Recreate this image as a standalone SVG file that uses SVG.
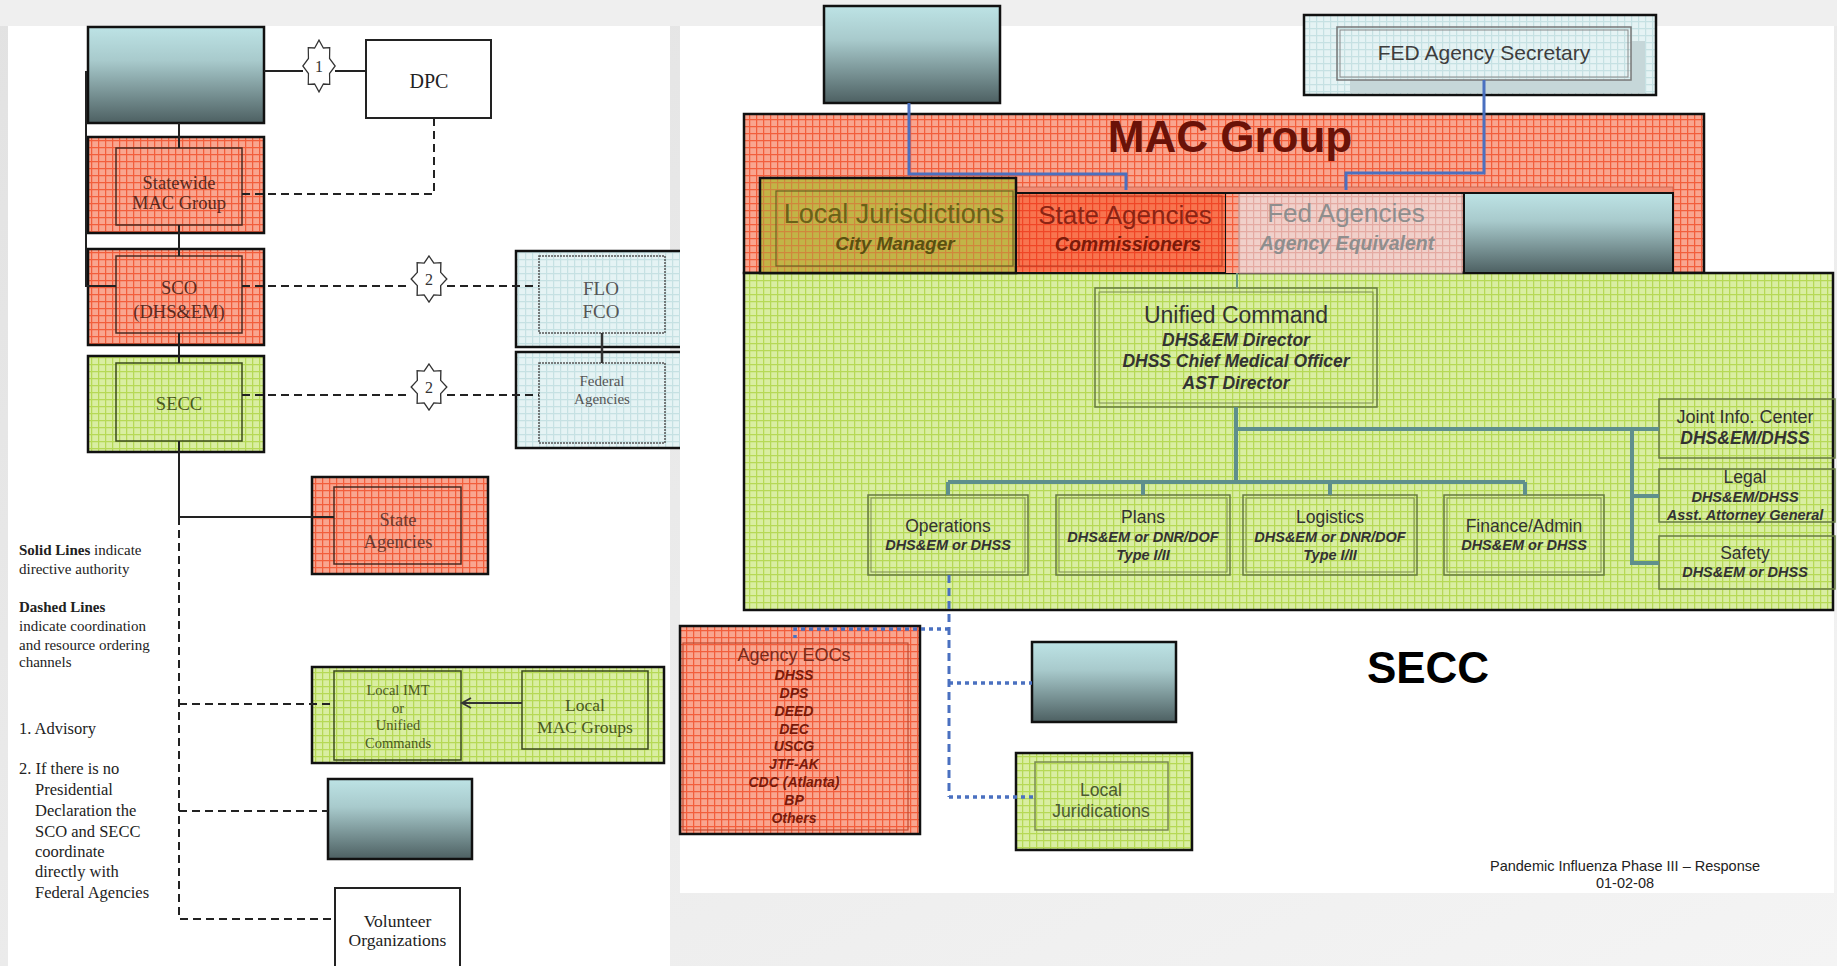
<svg xmlns="http://www.w3.org/2000/svg" width="1837" height="966" viewBox="0 0 1837 966">
<style>
.serif{font-family:"Liberation Serif","Times New Roman",serif}
.sans{font-family:"Liberation Sans",Arial,sans-serif}
.c{text-anchor:middle}
.bi{font-weight:bold;font-style:italic}
.ob{stroke:#111;stroke-width:2.5}
.solid{fill:none;stroke:#222;stroke-width:2}
.dash{fill:none;stroke:#222;stroke-width:2;stroke-dasharray:8 5}
.blue{fill:none;stroke:#4a70c0;stroke-width:3}
.bdot{fill:none;stroke:#4a70c0;stroke-width:3.5;stroke-dasharray:4 4}
.org{fill:none;stroke:#5f8f8c;stroke-width:4}
.gbox{fill:none;stroke:#667a40;stroke-width:1.5}
.gin{fill:none;stroke:#7a8a50;stroke-width:1}
</style>
<defs>
<linearGradient id="bg" x1="0" y1="0" x2="1" y2="1"><stop offset="0" stop-color="#e2e2e2"/><stop offset="1" stop-color="#f4f4f4"/></linearGradient>
<linearGradient id="gr" x1="0" y1="0" x2="0" y2="1"><stop offset="0" stop-color="#bde3e5"/><stop offset="0.35" stop-color="#a8cacc"/><stop offset="1" stop-color="#4d6062"/></linearGradient>
<pattern id="pr" width="7" height="7" patternUnits="userSpaceOnUse"><rect width="7" height="7" fill="#f9a58f"/><path d="M0 0.6H7M0.6 0V7" stroke="#f25e3c" stroke-width="1.3"/></pattern>
<pattern id="pr2" width="7" height="7" patternUnits="userSpaceOnUse"><rect width="7" height="7" fill="#f8744f"/><path d="M0 0.6H7M0.6 0V7" stroke="#f04626" stroke-width="1.3"/></pattern>
<pattern id="pg" width="7" height="7" patternUnits="userSpaceOnUse"><rect width="7" height="7" fill="#d9eea2"/><path d="M0 0.6H7M0.6 0V7" stroke="#b6d956" stroke-width="1.3"/></pattern>
<pattern id="pb" width="7" height="7" patternUnits="userSpaceOnUse"><rect width="7" height="7" fill="#e5f3f4"/><path d="M0 0.6H7M0.6 0V7" stroke="#c6e1e3" stroke-width="1.2"/></pattern>
<pattern id="po" width="7" height="7" patternUnits="userSpaceOnUse"><rect width="7" height="7" fill="#c2b447"/><path d="M0 0.6H7M0.6 0V7" stroke="#d0873c" stroke-width="1.2"/></pattern>
<pattern id="pp" width="7" height="7" patternUnits="userSpaceOnUse"><rect width="7" height="7" fill="#f1d0ca"/><path d="M0 0.6H7M0.6 0V7" stroke="#e4aaa2" stroke-width="1.2"/></pattern>
<path id="star" d="M0,-24 L4.6,-16.6 L11.3,-17 L11.1,-6.9 L17,0 L11.1,6.9 L11.3,17 L4.6,16.6 L0,24 L-4.6,16.6 L-11.3,17 L-11.1,6.9 L-17,0 L-11.1,-6.9 L-11.3,-17 L-4.6,-16.6 Z" fill="#fff" stroke="#333" stroke-width="1.3"/>
<marker id="open" markerWidth="12" markerHeight="12" refX="10" refY="6" orient="auto" markerUnits="userSpaceOnUse"><path d="M1,1 L10,6 L1,11" fill="none" stroke="#333" stroke-width="1.8"/></marker>
</defs>

<!-- background -->
<rect width="1837" height="966" fill="url(#bg)"/>
<rect x="0" y="0" width="1837" height="26" fill="#efefef"/>
<rect x="8" y="26" width="662" height="940" fill="#fff"/>

<!-- LEFT PANEL NODES -->
<g id="gov-left">
<rect x="88" y="27" width="176" height="96" fill="url(#gr)" class="ob"/>
</g>
<g id="dpc">
<rect x="366" y="40" width="125" height="78" fill="#fff" stroke="#222" stroke-width="2"/>
<text x="429" y="88" class="serif c" font-size="20" fill="#222">DPC</text>
</g>
<g id="statewide-mac">
<rect x="88" y="137" width="176" height="96" fill="url(#pr)" class="ob"/>
<rect x="116" y="148" width="126" height="77" fill="none" stroke="#4a2a20" stroke-width="1.5"/>
<text x="179" y="188.5" class="serif c" font-size="18.5" fill="#5a2a20">Statewide</text>
<text x="179" y="208.5" class="serif c" font-size="18.5" fill="#5a2a20">MAC Group</text>
</g>
<g id="sco">
<rect x="88" y="249" width="176" height="96" fill="url(#pr)" class="ob"/>
<rect x="116" y="256" width="126" height="77" fill="none" stroke="#4a2a20" stroke-width="1.5"/>
<text x="179" y="294" class="serif c" font-size="18.5" fill="#5a2a20">SCO</text>
<text x="179" y="318" class="serif c" font-size="18.5" fill="#5a2a20">(DHS&amp;EM)</text>
</g>
<g id="secc-left">
<rect x="88" y="356" width="176" height="96" fill="url(#pg)" class="ob"/>
<rect x="116" y="363" width="126" height="78" fill="none" stroke="#3a4a1a" stroke-width="1.5"/>
<text x="179" y="410" class="serif c" font-size="18.5" fill="#4a5a20">SECC</text>
</g>
<g id="flo-fco">
<rect x="516" y="251" width="172" height="96" fill="url(#pb)" class="ob"/>
<rect x="539" y="256" width="126" height="77" fill="none" stroke="#555" stroke-width="1.5" stroke-dasharray="2 1"/>
<text x="601" y="294.5" class="serif c" font-size="19" fill="#555">FLO</text>
<text x="601" y="317.5" class="serif c" font-size="19" fill="#555">FCO</text>
</g>
<g id="federal-agencies">
<rect x="516" y="352" width="172" height="96" fill="url(#pb)" class="ob"/>
<rect x="539" y="363" width="126" height="80" fill="none" stroke="#555" stroke-width="1.5" stroke-dasharray="2 1"/>
<text x="602" y="386" class="serif c" font-size="15" fill="#555">Federal</text>
<text x="602" y="404" class="serif c" font-size="15" fill="#555">Agencies</text>
</g>
<g id="state-agencies-left">
<rect x="312" y="477" width="176" height="97" fill="url(#pr)" class="ob"/>
<rect x="334" y="487" width="127" height="77" fill="none" stroke="#4a2a20" stroke-width="1.5"/>
<text x="398" y="526" class="serif c" font-size="18.5" fill="#6a3a30">State</text>
<text x="398" y="548" class="serif c" font-size="18.5" fill="#6a3a30">Agencies</text>
</g>
<g id="local-imt">
<rect x="312" y="667" width="352" height="96" fill="url(#pg)" class="ob"/>
<rect x="334" y="671" width="127" height="89" fill="none" stroke="#3a4a1a" stroke-width="1.5"/>
<text x="398" y="695" class="serif c" font-size="14.5" fill="#4a5a20">Local IMT</text>
<text x="398" y="713" class="serif c" font-size="14.5" fill="#4a5a20">or</text>
<text x="398" y="730" class="serif c" font-size="14.5" fill="#4a5a20">Unified</text>
<text x="398" y="748" class="serif c" font-size="14.5" fill="#4a5a20">Commands</text>
</g>
<g id="local-mac-groups">
<rect x="522" y="671" width="126" height="78" fill="none" stroke="#3a4a1a" stroke-width="1.5"/>
<text x="585" y="711" class="serif c" font-size="17.5" fill="#4a5a20">Local</text>
<text x="585" y="733" class="serif c" font-size="17.5" fill="#4a5a20">MAC Groups</text>
</g>
<g id="gov-left-2">
<rect x="328" y="779" width="144" height="80" fill="url(#gr)" class="ob"/>
</g>
<g id="volunteer">
<rect x="335" y="888" width="125" height="80" fill="#fff" stroke="#222" stroke-width="2"/>
<text x="397.5" y="927" class="serif c" font-size="17.5" fill="#222">Volunteer</text>
<text x="397.5" y="946" class="serif c" font-size="17.5" fill="#222">Organizations</text>
</g>

<!-- LEFT CONNECTORS -->
<g id="connectors-left">
<path class="solid" d="M264,71 H303 M335,71 H366"/>
<path class="solid" d="M86,71 V286 H116"/>
<path class="solid" d="M179,123 V148 M179,225 V256 M179,333 V363 M179,441 V517 H334"/>
<path class="dash" d="M179,517 V919 H335 M179,704 H334 M179,811 H328"/>
<path class="dash" d="M434,118 V194 H242"/>
<path class="dash" d="M242,286 H411 M447,286 H539"/>
<path class="dash" d="M242,395 H411 M447,395 H539"/>
<path fill="none" stroke="#333" stroke-width="2.5" d="M602,333 V363"/>
<path fill="none" stroke="#333" stroke-width="1.8" d="M522,703 H462" marker-end="url(#open)"/>
<use href="#star" transform="translate(319,66) scale(0.95,1.08)"/>
<text x="319" y="72" class="serif c" font-size="16" fill="#333">1</text>
<use href="#star" transform="translate(429,279) scale(1.05,0.96)"/>
<text x="429" y="285" class="serif c" font-size="16" fill="#333">2</text>
<use href="#star" transform="translate(429,387) scale(1.05,0.96)"/>
<text x="429" y="393" class="serif c" font-size="16" fill="#333">2</text>
</g>

<!-- LEGEND -->
<g id="legend" class="serif" font-size="15" fill="#222">
<text x="19" y="555"><tspan font-weight="bold">Solid Lines</tspan> indicate</text>
<text x="19" y="574">directive authority</text>
<text x="19" y="612" font-weight="bold">Dashed Lines</text>
<text x="19" y="631">indicate coordination</text>
<text x="19" y="650">and resource ordering</text>
<text x="19" y="667">channels</text>
<text x="19" y="734" font-size="16.5">1. Advisory</text>
<text x="19" y="774" font-size="16.5">2. If there is no</text>
<text x="35" y="795" font-size="16.5">Presidential</text>
<text x="35" y="816" font-size="16.5">Declaration the</text>
<text x="35" y="837" font-size="16.5">SCO and SECC</text>
<text x="35" y="857" font-size="16.5">coordinate</text>
<text x="35" y="877" font-size="16.5">directly with</text>
<text x="35" y="898" font-size="16.5">Federal Agencies</text>
</g>

<!-- RIGHT PANEL -->
<rect x="680" y="26" width="1154" height="867" fill="#fff"/>
<g id="mac-group">
<rect x="744" y="114" width="960" height="159" fill="url(#pr)" class="ob"/>
<text x="1230" y="152" class="sans c" font-size="44" font-weight="bold" fill="#6a1208">MAC Group</text>
</g>
<g id="secc-right">
<rect x="744" y="273" width="1089" height="337" fill="url(#pg)" class="ob"/>
</g>
<g id="gov-top">
<rect x="824" y="6" width="176" height="97" fill="url(#gr)" class="ob"/>
</g>
<g id="fed-secretary">
<rect x="1304" y="15" width="352" height="80" fill="url(#pb)" class="ob"/>
<rect x="1350" y="41" width="295" height="52" fill="#c6d7d9"/>
<rect x="1337" y="27" width="294" height="53" fill="url(#pb)" stroke="#777" stroke-width="1.5"/>
<rect x="1340" y="30" width="288" height="47" fill="none" stroke="#888" stroke-width="1"/>
<text x="1484" y="60" class="sans c" font-size="21" fill="#3d3d3d">FED Agency Secretary</text>
</g>
<g id="row-strip">
<rect x="1016" y="187" width="657" height="6" fill="#f28a72" stroke="#c4604c" stroke-width="0.8"/>
</g>
<g id="local-jurisdictions">
<rect x="760" y="178" width="256" height="95" fill="url(#po)" class="ob"/>
<rect x="776" y="191" width="237" height="75" fill="none" stroke="#6a6020" stroke-width="1.2"/>
<text x="894" y="223" class="sans c" font-size="27" fill="#6a6218">Local Jurisdictions</text>
<text x="895" y="250" class="sans c bi" font-size="19" fill="#5a5010">City Manager</text>
</g>
<g id="state-agencies-right">
<rect x="1016" y="193" width="210" height="80" fill="url(#pr2)" stroke="#111" stroke-width="2"/>
<rect x="1019" y="196" width="203" height="70" fill="none" stroke="#b83820" stroke-width="1"/>
<text x="1125" y="224" class="sans c" font-size="26" fill="#8b2414">State Agencies</text>
<text x="1128" y="251" class="sans c bi" font-size="19.5" fill="#7a1a0a">Commissioners</text>
</g>
<g id="fed-agencies-right">
<rect x="1226" y="193" width="13" height="80" fill="url(#pr)"/>
<rect x="1239" y="193" width="223" height="80" fill="url(#pp)" stroke="#c09a96" stroke-width="1.2"/>
<text x="1346" y="222" class="sans c" font-size="26" fill="#8e8e8e">Fed Agencies</text>
<text x="1347" y="250" class="sans c bi" font-size="19.5" fill="#8e8e8e">Agency Equivalent</text>
</g>
<g id="gov-mac">
<rect x="1464" y="193" width="209" height="80" fill="url(#gr)" stroke="#111" stroke-width="2"/>
<path d="M1016,193 H1673" stroke="#111" stroke-width="2"/>
</g>

<g id="unified-command">
<rect x="1095" y="288" width="282" height="119" class="gbox"/>
<rect x="1099" y="292" width="274" height="111" class="gin"/>
<text x="1236" y="323" class="sans c" font-size="23" fill="#333">Unified Command</text>
<text x="1236" y="346" class="sans c bi" font-size="17.5" fill="#333">DHS&amp;EM Director</text>
<text x="1236" y="367" class="sans c bi" font-size="17.5" fill="#333">DHSS Chief Medical Officer</text>
<text x="1236" y="389" class="sans c bi" font-size="17.5" fill="#333">AST Director</text>
</g>
<g id="operations">
<rect x="868" y="495" width="160" height="80" class="gbox"/>
<rect x="871" y="498" width="154" height="74" class="gin"/>
<text x="948" y="532" class="sans c" font-size="17.5" fill="#333">Operations</text>
<text x="948" y="550" class="sans c bi" font-size="14.5" fill="#333">DHS&amp;EM or DHSS</text>
</g>
<g id="plans">
<rect x="1056" y="495" width="174" height="80" class="gbox"/>
<rect x="1059" y="498" width="168" height="74" class="gin"/>
<text x="1143" y="523" class="sans c" font-size="17.5" fill="#333">Plans</text>
<text x="1143" y="542" class="sans c bi" font-size="14.5" fill="#333">DHS&amp;EM or DNR/DOF</text>
<text x="1143" y="560" class="sans c bi" font-size="14.5" fill="#333">Type I/II</text>
</g>
<g id="logistics">
<rect x="1243" y="495" width="174" height="80" class="gbox"/>
<rect x="1246" y="498" width="168" height="74" class="gin"/>
<text x="1330" y="523" class="sans c" font-size="17.5" fill="#333">Logistics</text>
<text x="1330" y="542" class="sans c bi" font-size="14.5" fill="#333">DHS&amp;EM or DNR/DOF</text>
<text x="1330" y="560" class="sans c bi" font-size="14.5" fill="#333">Type I/II</text>
</g>
<g id="finance-admin">
<rect x="1444" y="495" width="160" height="80" class="gbox"/>
<rect x="1447" y="498" width="154" height="74" class="gin"/>
<text x="1524" y="532" class="sans c" font-size="17.5" fill="#333">Finance/Admin</text>
<text x="1524" y="550" class="sans c bi" font-size="14.5" fill="#333">DHS&amp;EM or DHSS</text>
</g>
<g id="joint-info">
<rect x="1659" y="399" width="176" height="59" class="gbox"/>
<text x="1745" y="423" class="sans c" font-size="18" fill="#333">Joint Info. Center</text>
<text x="1745" y="444" class="sans c bi" font-size="17.5" fill="#333">DHS&amp;EM/DHSS</text>
</g>
<g id="legal">
<rect x="1659" y="469" width="176" height="53" class="gbox"/>
<text x="1745" y="483" class="sans c" font-size="17.5" fill="#333">Legal</text>
<text x="1745" y="502" class="sans c bi" font-size="14.5" fill="#333">DHS&amp;EM/DHSS</text>
<text x="1745" y="520" class="sans c bi" font-size="14.5" fill="#333">Asst. Attorney General</text>
</g>
<g id="safety">
<rect x="1659" y="536" width="176" height="53" class="gbox"/>
<text x="1745" y="559" class="sans c" font-size="17.5" fill="#333">Safety</text>
<text x="1745" y="577" class="sans c bi" font-size="14.5" fill="#333">DHS&amp;EM or DHSS</text>
</g>

<g id="agency-eocs">
<rect x="680" y="626" width="240" height="208" fill="url(#pr)" class="ob"/>
<rect x="683" y="643" width="225" height="187" fill="none" stroke="#c04a30" stroke-width="1.2"/>
<text x="794" y="661" class="sans c" font-size="18" fill="#7a2a1a">Agency EOCs</text>
<g class="sans c bi" font-size="14" fill="#7a1a0a">
<text x="794" y="680">DHSS</text>
<text x="794" y="698">DPS</text>
<text x="794" y="716">DEED</text>
<text x="794" y="734">DEC</text>
<text x="794" y="751">USCG</text>
<text x="794" y="769">JTF-AK</text>
<text x="794" y="787">CDC (Atlanta)</text>
<text x="794" y="805">BP</text>
<text x="794" y="823">Others</text>
</g>
</g>
<g id="gov-bottom">
<rect x="1032" y="642" width="144" height="80" fill="url(#gr)" class="ob"/>
</g>
<g id="local-juridications">
<rect x="1016" y="753" width="176" height="97" fill="url(#pg)" class="ob"/>
<rect x="1035" y="762" width="133" height="68" fill="none" stroke="#7a8a50" stroke-width="1.5"/>
<text x="1101" y="796" class="sans c" font-size="17.5" fill="#4a5a30">Local</text>
<text x="1101" y="817" class="sans c" font-size="17.5" fill="#4a5a30">Juridications</text>
</g>

<!-- RIGHT CONNECTORS -->
<g id="connectors-right">
<path class="blue" d="M909,103 V174 H1126 V190"/>
<path class="blue" d="M1484,80 V173 H1346 V190"/>
<path fill="none" stroke="#6a9a80" stroke-width="2" d="M1237,273 V288"/>
<path class="org" d="M1236,407 V482 M1236,429 H1659 M1632,429 V563 H1659 M1632,496 H1659 M948,482 H1525 M948,482 V495 M1143,482 V495 M1330,482 V495 M1525,482 V495"/>
<path fill="none" stroke="#4a70c0" stroke-width="3" stroke-dasharray="8 5" d="M949,575 V797"/>
<path class="bdot" d="M949,629 H795 V638 M949,683 H1032 M949,797 H1035"/>
</g>

<g id="labels-right">
<text x="1428" y="683" class="sans c" font-size="44" font-weight="bold" fill="#000">SECC</text>
<text x="1625" y="871" class="sans c" font-size="14.5" fill="#222">Pandemic Influenza Phase III – Response</text>
<text x="1625" y="888" class="sans c" font-size="14.5" fill="#222">01-02-08</text>
</g>
</svg>
